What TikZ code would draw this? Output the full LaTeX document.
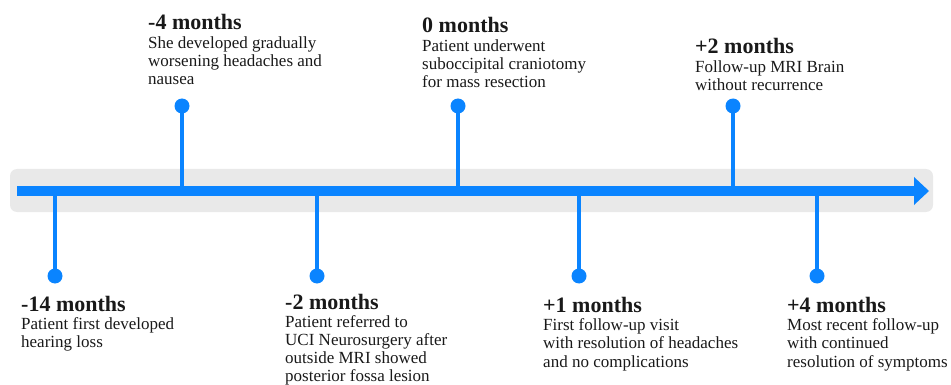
\documentclass[tikz,border=0pt]{standalone}
\usepackage{fontspec}
\setmainfont{Liberation Serif}
\definecolor{tlblue}{RGB}{10,132,255}
\definecolor{tlband}{RGB}{233,233,233}
\definecolor{tltext}{RGB}{25,25,25}
\begin{document}
\begin{tikzpicture}[x=1pt,y=-1pt,
  stemline/.style={draw=tlblue,line width=3.6pt},
  dotmark/.style={circle,fill=tlblue,inner sep=0pt,minimum size=15pt},
  headtext/.style={anchor=base west,inner sep=0pt,font=\fontsize{22}{24}\selectfont\bfseries,text=tltext},
  bodytext/.style={anchor=north west,inner sep=0pt,align=left,font=\fontsize{17}{18.2}\selectfont,text=tltext}]
\useasboundingbox (0,0) rectangle (951,385);
\fill[tlband, rounded corners=7pt] (10,169) rectangle (933,212);

% axis coordinates
\coordinate (start) at (17,191);
\coordinate (headbase) at (914,191);
\coordinate (tip) at (929,191);
\coordinate (hu) at (914,177);
\coordinate (hd) at (914,205);

% event points on the axis
\coordinate (a1) at (55,191);
\coordinate (a2) at (182,191);
\coordinate (a3) at (317,191);
\coordinate (a4) at (458,191);
\coordinate (a5) at (579,191);
\coordinate (a6) at (733,191);
\coordinate (a7) at (817,191);

% dots
\node[dotmark] (d1) at (55,276) {};
\node[dotmark] (d2) at (182,106) {};
\node[dotmark] (d3) at (317,276) {};
\node[dotmark] (d4) at (458,106) {};
\node[dotmark] (d5) at (579,276) {};
\node[dotmark] (d6) at (733,106) {};
\node[dotmark] (d7) at (817,276) {};

\foreach \i in {1,...,7} {\draw[stemline] (a\i) -- (d\i.center);}

% main arrow
\draw[tlblue,line width=9.5pt] (start) -- (headbase);
\fill[tlblue] (hu) -- (tip) -- (hd) -- cycle;

% labels
\node[headtext] (h1) at (21,311) {-14 months};
\node[bodytext] (b1) at ([yshift=-6.5pt]h1.base west) {Patient first developed\\hearing loss};

\node[headtext] (h2) at (148,30) {-4 months};
\node[bodytext] (b2) at ([yshift=-6.5pt]h2.base west) {She developed gradually\\worsening headaches and\\nausea};

\node[headtext] (h3) at (285,309.5) {-2 months};
\node[bodytext,font=\fontsize{17}{17.9}\selectfont] (b3) at ([yshift=-6.3pt]h3.base west) {Patient referred to\\UCI Neurosurgery after\\outside MRI showed\\posterior fossa lesion};

\node[headtext] (h4) at (422,33) {0 months};
\node[bodytext] (b4) at ([yshift=-6.5pt]h4.base west) {Patient underwent\\suboccipital craniotomy\\for mass resection};

\node[headtext] (h5) at (543,312) {+1 months};
\node[bodytext] (b5) at ([yshift=-6.5pt]h5.base west) {First follow-up visit\\with resolution of headaches\\and no complications};

\node[headtext] (h6) at (695,54) {+2 months};
\node[bodytext] (b6) at ([yshift=-6.5pt]h6.base west) {Follow-up MRI Brain\\without recurrence};

\node[headtext] (h7) at (787,312) {+4 months};
\node[bodytext] (b7) at ([yshift=-6.5pt]h7.base west) {Most recent follow-up\\with continued\\resolution of symptoms};
\end{tikzpicture}
\end{document}
